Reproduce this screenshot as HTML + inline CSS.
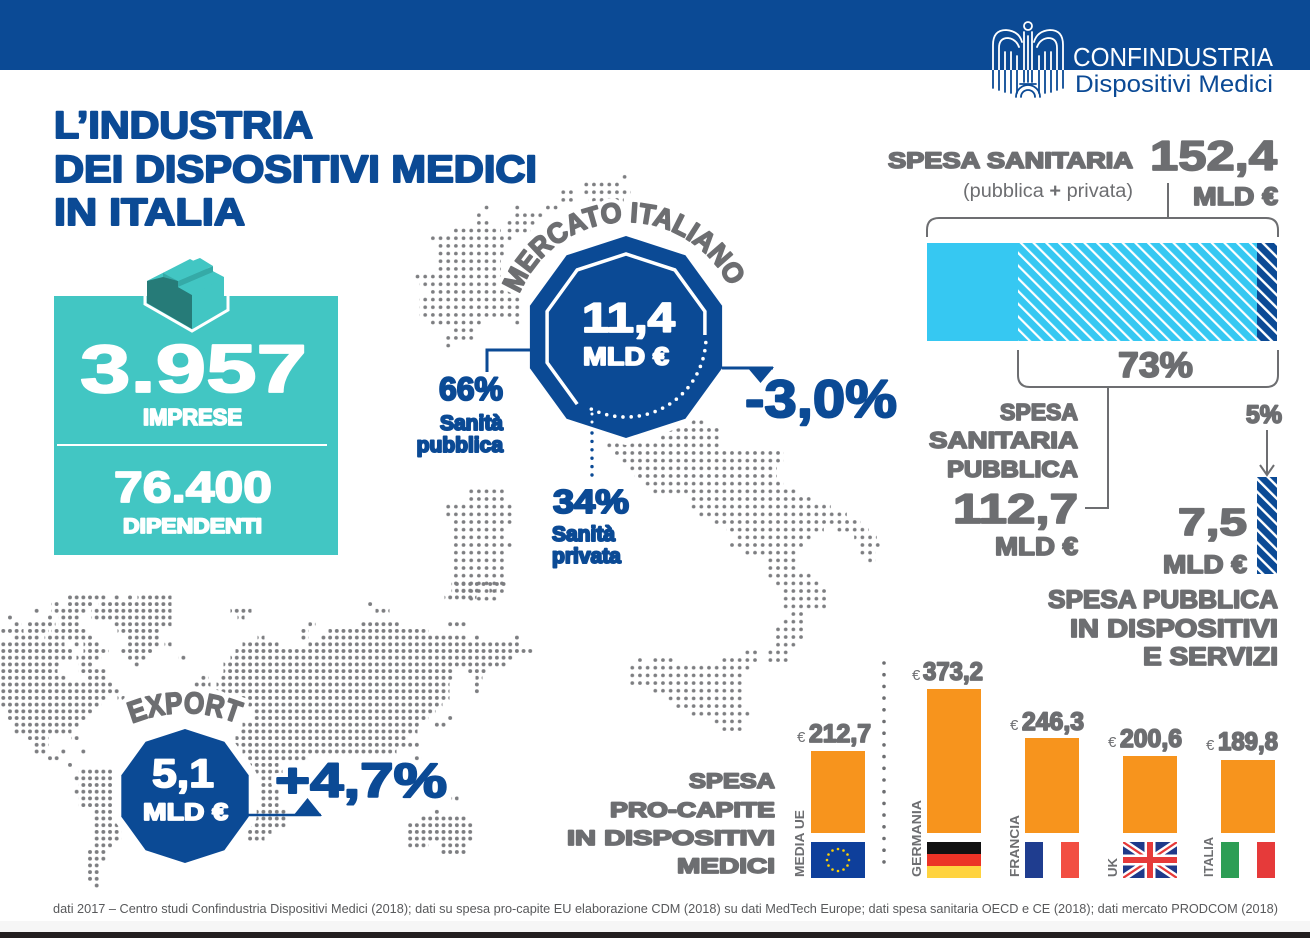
<!DOCTYPE html>
<html><head><meta charset="utf-8">
<style>
html,body{margin:0;padding:0;background:#fff;}
svg{display:block;}
.b{font-family:"Liberation Sans",Arial,sans-serif;font-weight:bold;}
.r{font-family:"Liberation Sans",Arial,sans-serif;font-weight:normal;}
.bl{fill:#0b4a95;stroke:#0b4a95;stroke-width:2;stroke-linejoin:round;}
.gr{fill:#6d6e71;stroke:#6d6e71;stroke-width:1.7;stroke-linejoin:round;}
.wh{fill:#fff;stroke:#fff;stroke-width:1.8;stroke-linejoin:round;}
</style></head>
<body>
<svg width="1310" height="938" viewBox="0 0 1310 938" xmlns="http://www.w3.org/2000/svg">
<defs>
  <pattern id="di" patternUnits="userSpaceOnUse" x="-0.485" y="-3.405" width="7.67" height="7.67">
    <circle cx="3.835" cy="3.835" r="1.85" fill="#7d7e81"/>
  </pattern>
  <pattern id="dw" patternUnits="userSpaceOnUse" x="-0.035" y="580.65" width="6.67" height="6.7">
    <circle cx="3.335" cy="3.35" r="1.95" fill="#7d7e81"/>
  </pattern>
  <pattern id="hl" patternUnits="userSpaceOnUse" width="9" height="9" patternTransform="rotate(-45)">
    <rect width="9" height="9" fill="#36c8f2"/><rect width="2.2" height="9" fill="#fff"/>
  </pattern>
  <pattern id="hd" patternUnits="userSpaceOnUse" width="9" height="9" patternTransform="rotate(-45)">
    <rect width="9" height="9" fill="#0b4a95"/><rect width="2.4" height="9" fill="#fff"/>
  </pattern>
  <path id="arcM" d="M514.9 307.2 A115 115 0 0 1 737.1 307.2"/>
  <path id="arcE" d="M115 731.8 A140 140 0 0 1 255 731.8"/>
  <clipPath id="cTop"><rect x="0" y="0" width="1310" height="70"/></clipPath>
  <clipPath id="cBot"><rect x="0" y="70" width="1310" height="60"/></clipPath>
  <clipPath id="cUK"><rect x="1123" y="842" width="54" height="36"/></clipPath>
  <g id="logo" fill="none" stroke-width="1.8" stroke-linecap="round">
    <path d="M993 88 L993 45 Q993 30 1006 30 Q1019 31 1022 42 M999 90 L999 48 Q999 38 1008 38 Q1016 39 1019 47 M1005 92 L1005 52 M1011 93 L1011 52 M1017 93 L1017 56"/>
    <path d="M1063 88 L1063 45 Q1063 30 1050 30 Q1037 31 1034 42 M1057 90 L1057 48 Q1057 38 1048 38 Q1040 39 1037 47 M1051 92 L1051 52 M1045 93 L1045 52 M1039 93 L1039 56"/>
    <path d="M1024 32 L1024 82 M1032 32 L1032 82 M1028 36 L1028 82 M1020 84 L1036 84 M1016 97 A12 12 0 0 1 1040 97 M1021 97 A7 7 0 0 1 1035 97"/>
    <circle cx="1028" cy="26" r="4"/>
  </g>
</defs>

<rect width="1310" height="938" fill="#fff"/>

<!-- HEADER -->
<rect x="0" y="0" width="1310" height="70" fill="#0b4a95"/>
<use href="#logo" stroke="#fff" clip-path="url(#cTop)"/>
<use href="#logo" stroke="#0b4a95" clip-path="url(#cBot)"/>
<text class="r" x="1073" y="66" font-size="26" fill="#fff" textLength="200" lengthAdjust="spacingAndGlyphs">CONFINDUSTRIA</text>
<text class="r" x="1075" y="92" font-size="24" fill="#0b4a95" textLength="198" lengthAdjust="spacingAndGlyphs">Dispositivi Medici</text>

<!-- TITLE -->
<g class="b bl" font-size="38">
<text x="54" y="138" textLength="259" lengthAdjust="spacingAndGlyphs">L’INDUSTRIA</text>
<text x="54" y="182" textLength="483" lengthAdjust="spacingAndGlyphs">DEI DISPOSITIVI MEDICI</text>
<text x="54" y="225" textLength="191" lengthAdjust="spacingAndGlyphs">IN ITALIA</text>
</g>

<!-- ITALY DOTS -->
<g fill="url(#di)">
<rect x="621.2" y="173.0" width="7.6" height="7.67"/>
<rect x="581.2" y="180.7" width="40.6" height="7.67"/>
<rect x="559.2" y="188.4" width="16.6" height="7.67"/><rect x="581.2" y="188.4" width="49.6" height="7.67"/>
<rect x="559.2" y="196.0" width="16.6" height="7.67"/><rect x="588.2" y="196.0" width="35.6" height="7.67"/>
<rect x="483.2" y="203.7" width="7.6" height="7.67"/><rect x="514.2" y="203.7" width="7.6" height="7.67"/><rect x="543.2" y="203.7" width="17.6" height="7.67"/>
<rect x="474.2" y="211.4" width="7.6" height="7.67"/><rect x="514.2" y="211.4" width="29.6" height="7.67"/>
<rect x="474.2" y="219.0" width="17.6" height="7.67"/><rect x="506.2" y="219.0" width="30.6" height="7.67"/>
<rect x="451.2" y="226.7" width="49.6" height="7.67"/><rect x="506.2" y="226.7" width="24.6" height="7.67"/>
<rect x="428.2" y="234.4" width="85.6" height="7.67"/>
<rect x="436.2" y="242.0" width="70.6" height="7.67"/>
<rect x="436.2" y="249.7" width="70.6" height="7.67"/>
<rect x="436.2" y="257.4" width="64.6" height="7.67"/>
<rect x="436.2" y="265.1" width="64.6" height="7.67"/>
<rect x="413.2" y="272.7" width="87.6" height="7.67"/>
<rect x="419.2" y="280.4" width="87.6" height="7.67"/>
<rect x="428.2" y="288.1" width="85.6" height="7.67"/>
<rect x="419.2" y="295.7" width="101.6" height="7.67"/>
<rect x="419.2" y="303.4" width="101.6" height="7.67"/>
<rect x="419.2" y="311.1" width="101.6" height="7.67"/>
<rect x="428.2" y="318.7" width="55.6" height="7.67"/><rect x="513.2" y="318.7" width="7.6" height="7.67"/>
<rect x="451.2" y="326.4" width="24.6" height="7.67"/>
<rect x="443.2" y="334.1" width="32.6" height="7.67"/>
<rect x="444.2" y="341.8" width="7.6" height="7.67"/>

<rect x="683.2" y="418.5" width="23.6" height="7.67"/>
<rect x="666.2" y="426.1" width="55.6" height="7.67"/>
<rect x="659.2" y="433.8" width="62.6" height="7.67"/>
<rect x="604.2" y="441.5" width="117.6" height="7.67"/>
<rect x="613.2" y="449.1" width="170.6" height="7.67"/>
<rect x="619.2" y="456.8" width="164.6" height="7.67"/>
<rect x="628.2" y="464.5" width="148.6" height="7.67"/>
<rect x="634.2" y="472.1" width="142.6" height="7.67"/>
<rect x="643.2" y="479.8" width="140.6" height="7.67"/>
<rect x="651.2" y="487.5" width="147.6" height="7.67"/><rect x="466.2" y="487.5" width="40.6" height="7.67"/>
<rect x="689.2" y="495.2" width="124.6" height="7.67"/><rect x="466.2" y="495.2" width="40.6" height="7.67"/>
<rect x="689.2" y="502.8" width="141.6" height="7.67"/><rect x="443.2" y="502.8" width="70.6" height="7.67"/>
<rect x="696.2" y="510.5" width="150.6" height="7.67"/><rect x="443.2" y="510.5" width="70.6" height="7.67"/>
<rect x="711.2" y="518.2" width="149.6" height="7.67"/><rect x="451.2" y="518.2" width="62.6" height="7.67"/>
<rect x="726.2" y="525.8" width="97.6" height="7.67"/><rect x="836.2" y="525.8" width="32.6" height="7.67"/><rect x="451.2" y="525.8" width="55.6" height="7.67"/>
<rect x="734.2" y="533.5" width="79.6" height="7.67"/><rect x="854.2" y="533.5" width="22.6" height="7.67"/><rect x="451.2" y="533.5" width="55.6" height="7.67"/>
<rect x="728.2" y="541.2" width="77.6" height="7.67"/><rect x="859.2" y="541.2" width="22.6" height="7.67"/><rect x="451.2" y="541.2" width="62.6" height="7.67"/>
<rect x="743.2" y="548.8" width="55.6" height="7.67"/><rect x="859.2" y="548.8" width="16.6" height="7.67"/><rect x="451.2" y="548.8" width="55.6" height="7.67"/>
<rect x="766.2" y="556.5" width="32.6" height="7.67"/><rect x="868.2" y="556.5" width="7.6" height="7.67"/><rect x="451.2" y="556.5" width="55.6" height="7.67"/>
<rect x="766.2" y="564.2" width="32.6" height="7.67"/><rect x="451.2" y="564.2" width="55.6" height="7.67"/>
<rect x="766.2" y="571.9" width="47.6" height="7.67"/><rect x="451.2" y="571.9" width="55.6" height="7.67"/>
<rect x="774.2" y="579.5" width="47.6" height="7.67"/><rect x="451.2" y="579.5" width="55.6" height="7.67"/>
<rect x="781.2" y="587.2" width="47.6" height="7.67"/><rect x="458.2" y="587.2" width="48.6" height="7.67"/>
<rect x="781.2" y="594.9" width="47.6" height="7.67"/><rect x="466.2" y="594.9" width="32.6" height="7.67"/>
<rect x="781.2" y="602.5" width="47.6" height="7.67"/>
<rect x="789.2" y="610.2" width="16.6" height="7.67"/>
<rect x="781.2" y="617.9" width="24.6" height="7.67"/>
<rect x="774.2" y="625.5" width="31.6" height="7.67"/>
<rect x="774.2" y="633.2" width="31.6" height="7.67"/>
<rect x="774.2" y="640.9" width="24.6" height="7.67"/>
<rect x="743.2" y="648.6" width="15.6" height="7.67"/><rect x="766.2" y="648.6" width="24.6" height="7.67"/>
<rect x="636.2" y="656.2" width="7.6" height="7.67"/><rect x="651.2" y="656.2" width="24.6" height="7.67"/><rect x="719.2" y="656.2" width="39.6" height="7.67"/><rect x="766.2" y="656.2" width="24.6" height="7.67"/>
<rect x="628.2" y="663.9" width="123.6" height="7.67"/>
<rect x="628.2" y="671.6" width="115.6" height="7.67"/>
<rect x="628.2" y="679.2" width="115.6" height="7.67"/>
<rect x="651.2" y="686.9" width="92.6" height="7.67"/>
<rect x="666.2" y="694.6" width="77.6" height="7.67"/>
<rect x="674.2" y="702.2" width="69.6" height="7.67"/>
<rect x="689.2" y="709.9" width="62.6" height="7.67"/>
<rect x="713.2" y="717.6" width="30.6" height="7.67"/>
<rect x="719.2" y="725.3" width="24.6" height="7.67"/>
</g>

<!-- WORLD DOTS -->
<g fill="url(#dw)">
<rect x="451.5" y="580.65" width="56" height="6.7"/>
<rect x="451.5" y="587.35" width="27" height="6.7"/><rect x="489.5" y="587.35" width="7" height="6.7"/>
<rect x="66.5" y="594.05" width="41" height="6.7"/><rect x="112.5" y="594.05" width="7" height="6.7"/><rect x="125.5" y="594.05" width="7" height="6.7"/><rect x="137.5" y="594.05" width="34" height="6.7"/><rect x="444.5" y="594.05" width="32" height="6.7"/>
<rect x="51.5" y="600.75" width="7" height="6.7"/><rect x="66.5" y="600.75" width="26" height="6.7"/><rect x="98.5" y="600.75" width="73" height="6.7"/><rect x="367.5" y="600.75" width="7" height="6.7"/>
<rect x="33.5" y="607.45" width="7" height="6.7"/><rect x="51.5" y="607.45" width="34" height="6.7"/><rect x="91.5" y="607.45" width="80" height="6.7"/><rect x="230.5" y="607.45" width="21" height="6.7"/><rect x="375.5" y="607.45" width="14" height="6.7"/>
<rect x="7.5" y="614.15" width="7" height="6.7"/><rect x="46.5" y="614.15" width="7" height="6.7"/><rect x="58.5" y="614.15" width="22" height="6.7"/><rect x="91.5" y="614.15" width="80" height="6.7"/><rect x="237.5" y="614.15" width="7" height="6.7"/>
<rect x="14.5" y="620.85" width="7" height="6.7"/><rect x="26.5" y="620.85" width="29" height="6.7"/><rect x="58.5" y="620.85" width="22" height="6.7"/><rect x="112.5" y="620.85" width="59" height="6.7"/><rect x="308.5" y="620.85" width="7" height="6.7"/><rect x="360.5" y="620.85" width="41" height="6.7"/><rect x="446.5" y="620.85" width="21" height="6.7"/>
<rect x="0.5" y="627.55" width="23" height="6.7"/><rect x="26.5" y="627.55" width="22" height="6.7"/><rect x="51.5" y="627.55" width="34" height="6.7"/><rect x="117.5" y="627.55" width="43" height="6.7"/><rect x="301.5" y="627.55" width="7" height="6.7"/><rect x="328.5" y="627.55" width="100" height="6.7"/>
<rect x="12.5" y="634.25" width="28" height="6.7"/><rect x="44.5" y="634.25" width="20" height="6.7"/><rect x="66.5" y="634.25" width="28" height="6.7"/><rect x="125.5" y="634.25" width="35" height="6.7"/><rect x="257.5" y="634.25" width="7" height="6.7"/><rect x="301.5" y="634.25" width="7" height="6.7"/><rect x="321.5" y="634.25" width="146" height="6.7"/><rect x="473.5" y="634.25" width="7" height="6.7"/><rect x="512.5" y="634.25" width="7" height="6.7"/>
<rect x="0.5" y="640.95" width="32" height="6.7"/><rect x="33.5" y="640.95" width="31" height="6.7"/><rect x="73.5" y="640.95" width="7" height="6.7"/><rect x="83.5" y="640.95" width="16" height="6.7"/><rect x="125.5" y="640.95" width="35" height="6.7"/><rect x="164.5" y="640.95" width="7" height="6.7"/><rect x="242.5" y="640.95" width="36" height="6.7"/><rect x="308.5" y="640.95" width="211" height="6.7"/>
<rect x="0.5" y="647.65" width="74" height="6.7"/><rect x="83.5" y="647.65" width="25" height="6.7"/><rect x="119.5" y="647.65" width="34" height="6.7"/><rect x="235.5" y="647.65" width="50" height="6.7"/><rect x="287.5" y="647.65" width="246" height="6.7"/>
<rect x="0.5" y="654.35" width="74" height="6.7"/><rect x="76.5" y="654.35" width="25" height="6.7"/><rect x="125.5" y="654.35" width="21" height="6.7"/><rect x="178.5" y="654.35" width="7" height="6.7"/><rect x="230.5" y="654.35" width="284" height="6.7"/>
<rect x="0.5" y="661.05" width="60" height="6.7"/><rect x="78.5" y="661.05" width="16" height="6.7"/><rect x="132.5" y="661.05" width="7" height="6.7"/><rect x="223.5" y="661.05" width="284" height="6.7"/>
<rect x="0.5" y="667.75" width="57" height="6.7"/><rect x="78.5" y="667.75" width="29" height="6.7"/><rect x="223.5" y="667.75" width="230" height="6.7"/><rect x="466.5" y="667.75" width="21" height="6.7"/>
<rect x="0.5" y="674.45" width="67" height="6.7"/><rect x="85.5" y="674.45" width="22" height="6.7"/><rect x="201.5" y="674.45" width="7" height="6.7"/><rect x="221.5" y="674.45" width="232" height="6.7"/><rect x="475.5" y="674.45" width="7" height="6.7"/>
<rect x="0.5" y="681.15" width="114" height="6.7"/><rect x="194.5" y="681.15" width="16" height="6.7"/><rect x="216.5" y="681.15" width="233" height="6.7"/><rect x="473.5" y="681.15" width="7" height="6.7"/>
<rect x="0.5" y="687.85" width="114" height="6.7"/><rect x="112.5" y="687.85" width="7" height="6.7"/><rect x="216.5" y="687.85" width="233" height="6.7"/><rect x="473.5" y="687.85" width="7" height="6.7"/>
<rect x="0.5" y="694.55" width="107" height="6.7"/><rect x="117.5" y="694.55" width="7" height="6.7"/><rect x="221.5" y="694.55" width="228" height="6.7"/>
<rect x="0.5" y="701.25" width="101" height="6.7"/><rect x="246.5" y="701.25" width="196" height="6.7"/>
<rect x="5.5" y="707.95" width="89" height="6.7"/><rect x="253.5" y="707.95" width="182" height="6.7"/>
<rect x="5.5" y="714.65" width="82" height="6.7"/><rect x="253.5" y="714.65" width="175" height="6.7"/><rect x="446.5" y="714.65" width="7" height="6.7"/>
<rect x="12.5" y="721.35" width="66" height="6.7"/><rect x="242.5" y="721.35" width="179" height="6.7"/><rect x="432.5" y="721.35" width="14" height="6.7"/>
<rect x="12.5" y="728.05" width="59" height="6.7"/><rect x="239.5" y="728.05" width="178" height="6.7"/>
<rect x="26.5" y="734.75" width="22" height="6.7"/><rect x="71.5" y="734.75" width="7" height="6.7"/><rect x="235.5" y="734.75" width="172" height="6.7"/>
<rect x="33.5" y="741.45" width="15" height="6.7"/><rect x="235.5" y="741.45" width="186" height="6.7"/>
<rect x="32.5" y="748.15" width="14" height="6.7"/><rect x="58.5" y="748.15" width="7" height="6.7"/><rect x="80.5" y="748.15" width="7" height="6.7"/><rect x="242.5" y="748.15" width="154" height="6.7"/>
<rect x="46.5" y="754.85" width="14" height="6.7"/><rect x="242.5" y="754.85" width="65" height="6.7"/><rect x="414.5" y="754.85" width="7" height="6.7"/>
<rect x="66.5" y="761.55" width="7" height="6.7"/><rect x="250.5" y="761.55" width="28" height="6.7"/>
<rect x="78.5" y="768.25" width="36" height="6.7"/><rect x="253.5" y="768.25" width="29" height="6.7"/>
<rect x="73.5" y="774.95" width="41" height="6.7"/><rect x="260.5" y="774.95" width="18" height="6.7"/>
<rect x="78.5" y="781.65" width="36" height="6.7"/><rect x="260.5" y="781.65" width="18" height="6.7"/>
<rect x="73.5" y="788.35" width="41" height="6.7"/><rect x="260.5" y="788.35" width="18" height="6.7"/><rect x="400.5" y="788.35" width="14" height="6.7"/>
<rect x="78.5" y="795.05" width="36" height="6.7"/><rect x="260.5" y="795.05" width="18" height="6.7"/><rect x="434.5" y="795.05" width="7" height="6.7"/><rect x="451.5" y="795.05" width="7" height="6.7"/>
<rect x="78.5" y="801.75" width="36" height="6.7"/><rect x="260.5" y="801.75" width="18" height="6.7"/>
<rect x="92.5" y="808.45" width="22" height="6.7"/><rect x="253.5" y="808.45" width="32" height="6.7"/><rect x="434.5" y="808.45" width="7" height="6.7"/>
<rect x="92.5" y="815.15" width="22" height="6.7"/><rect x="246.5" y="815.15" width="39" height="6.7"/><rect x="421.5" y="815.15" width="46" height="6.7"/>
<rect x="92.5" y="821.85" width="29" height="6.7"/><rect x="242.5" y="821.85" width="43" height="6.7"/><rect x="407.5" y="821.85" width="67" height="6.7"/>
<rect x="92.5" y="828.55" width="29" height="6.7"/><rect x="242.5" y="828.55" width="29" height="6.7"/><rect x="407.5" y="828.55" width="67" height="6.7"/>
<rect x="92.5" y="835.25" width="29" height="6.7"/><rect x="246.5" y="835.25" width="18" height="6.7"/><rect x="407.5" y="835.25" width="67" height="6.7"/>
<rect x="92.5" y="841.95" width="22" height="6.7"/><rect x="407.5" y="841.95" width="21" height="6.7"/><rect x="439.5" y="841.95" width="28" height="6.7"/>
<rect x="85.5" y="848.65" width="22" height="6.7"/><rect x="439.5" y="848.65" width="28" height="6.7"/>
<rect x="85.5" y="855.35" width="22" height="6.7"/>
<rect x="85.5" y="862.05" width="14" height="6.7"/>
<rect x="85.5" y="868.75" width="14" height="6.7"/>
<rect x="85.5" y="875.45" width="14" height="6.7"/>
<rect x="92.5" y="882.15" width="7" height="6.7"/>
</g>

<!-- TEAL BOX -->
<rect x="54" y="296" width="284" height="259" fill="#42c6c3"/>
<g>
  <polygon points="147,281 190,259 224,277 224,311 192,329 147,303" fill="#42c6c3"/>
  <polygon points="147,281 147,303 192,329 192,295 178,287 178,281 163,273 163,277" fill="#267b78"/>
  <polygon points="147,281 163,273 200,258 186,266" fill="#42c6c3"/>
  <polygon points="163,273 163,277 178,281 200,268 200,262" fill="#35aaa7"/>
  <polygon points="178,281 213,266 213,272 178,287" fill="#35aaa7"/>
  <polygon points="178,287 192,295 224,278 213,272" fill="#42c6c3"/>
  <polygon points="200,258 213,266 178,281 163,273" fill="#42c6c3"/>
  <polyline points="145,296 145,304 192,331 228,310 228,296" fill="none" stroke="#fff" stroke-width="3"/>
</g>
<g class="b wh">
<text x="80" y="392" font-size="68" textLength="227" lengthAdjust="spacingAndGlyphs">3.957</text>
<text x="143" y="425" font-size="23" textLength="99" lengthAdjust="spacingAndGlyphs">IMPRESE</text>
<text x="114" y="502" font-size="44" textLength="158" lengthAdjust="spacingAndGlyphs">76.400</text>
<text x="123" y="533" font-size="21" textLength="139" lengthAdjust="spacingAndGlyphs">DIPENDENTI</text>
</g>
<line x1="57" y1="445" x2="327" y2="445" stroke="#fff" stroke-width="2"/>

<!-- MERCATO ITALIANO OCTAGON -->
<polygon points="626,236 685.4,255.3 722.1,305.8 722.1,368.2 685.4,418.7 626,438 566.6,418.7 529.9,368.2 529.9,305.8 566.6,255.3" fill="#0b4a95" stroke="#fff" stroke-width="14" stroke-linejoin="round" paint-order="stroke"/>
<polyline points="577.2,404.1 547.1,362.6 547.1,311.4 577.2,269.9 626,254 674.8,269.9 704.9,311.4 704.9,335" fill="none" stroke="#fff" stroke-width="3.5"/>
<path d="M705.8 342.6 A80 80 0 0 1 584.8 405.6" fill="none" stroke="#fff" stroke-width="3.6" stroke-linecap="round" stroke-dasharray="0 8.2"/>
<text class="b" font-size="28" fill="#fff" stroke="#fff" stroke-width="10" stroke-linejoin="round"><textPath href="#arcM" startOffset="14" textLength="265" lengthAdjust="spacingAndGlyphs">MERCATO ITALIANO</textPath></text>
<text class="b gr" font-size="28"><textPath href="#arcM" startOffset="14" textLength="265" lengthAdjust="spacingAndGlyphs">MERCATO ITALIANO</textPath></text>
<g class="b wh">
<text x="582" y="332" font-size="42" textLength="93" lengthAdjust="spacingAndGlyphs">11,4</text>
<text x="583" y="365" font-size="25" textLength="86" lengthAdjust="spacingAndGlyphs">MLD €</text>
</g>
<polyline points="487,372 487,350 532,350" fill="none" stroke="#0b4a95" stroke-width="3"/>
<line x1="722" y1="368" x2="773" y2="368" stroke="#0b4a95" stroke-width="3"/>
<polygon points="747,367 774,367 760.5,383" fill="#0b4a95"/>
<line x1="592" y1="433" x2="592" y2="477" stroke="#0b4a95" stroke-width="3.4" stroke-linecap="round" stroke-dasharray="0 8.4"/>
<line x1="592" y1="414" x2="592" y2="428" stroke="#fff" stroke-width="3" stroke-linecap="round" stroke-dasharray="0 8"/>
<g class="b bl">
<text x="745" y="417" font-size="53" textLength="152" lengthAdjust="spacingAndGlyphs">-3,0%</text>
<text x="503" y="400" font-size="32" text-anchor="end">66%</text>
<text x="503" y="430" font-size="21" text-anchor="end">Sanità</text>
<text x="503" y="452" font-size="21" text-anchor="end">pubblica</text>
<text x="553" y="513" font-size="33" textLength="76" lengthAdjust="spacingAndGlyphs">34%</text>
<text x="552" y="541" font-size="21">Sanità</text>
<text x="552" y="563" font-size="21">privata</text>
</g>

<!-- EXPORT -->
<polygon points="185,729 224.4,741.8 248.7,775.3 248.7,816.7 224.4,850.2 185,863 145.6,850.2 121.3,816.7 121.3,775.3 145.6,741.8" fill="#0b4a95" stroke="#fff" stroke-width="16" stroke-linejoin="round" paint-order="stroke"/>
<text class="b" font-size="30" fill="#fff" stroke="#fff" stroke-width="11" stroke-linejoin="round"><textPath href="#arcE" startOffset="19" textLength="108" lengthAdjust="spacingAndGlyphs">EXPORT</textPath></text>
<text class="b gr" font-size="30"><textPath href="#arcE" startOffset="19" textLength="108" lengthAdjust="spacingAndGlyphs">EXPORT</textPath></text>
<g class="b wh">
<text x="152" y="787" font-size="40" textLength="62" lengthAdjust="spacingAndGlyphs">5,1</text>
<text x="143" y="820" font-size="24" textLength="85" lengthAdjust="spacingAndGlyphs">MLD €</text>
</g>
<line x1="248" y1="815" x2="321" y2="815" stroke="#0b4a95" stroke-width="2.5"/>
<polygon points="293,816 322,816 307.5,798" fill="#0b4a95"/>
<text class="b" x="275" y="797" font-size="48" textLength="172" lengthAdjust="spacingAndGlyphs" fill="#fff" stroke="#fff" stroke-width="10" stroke-linejoin="round">+4,7%</text>
<text class="b bl" x="275" y="797" font-size="48" textLength="172" lengthAdjust="spacingAndGlyphs">+4,7%</text>

<!-- SPESA SANITARIA -->
<g class="b gr">
<text x="888" y="168" font-size="22" textLength="245" lengthAdjust="spacingAndGlyphs">SPESA SANITARIA</text>
<text x="1150" y="170" font-size="42" textLength="127" lengthAdjust="spacingAndGlyphs">152,4</text>
<text x="1193" y="205" font-size="25" textLength="85" lengthAdjust="spacingAndGlyphs">MLD €</text>
<text x="1118" y="377" font-size="35" textLength="75" lengthAdjust="spacingAndGlyphs">73%</text>
</g>
<text class="r" x="963" y="197" font-size="19" fill="#6d6e71" textLength="170" lengthAdjust="spacingAndGlyphs">(pubblica <tspan class="b" fill="#6d6e71">+</tspan> privata)</text>
<g fill="none" stroke="#6d6e71" stroke-width="2">
<line x1="1168" y1="183" x2="1168" y2="218"/>
<path d="M927 237 L927 230 Q927 218 939 218 L1266 218 Q1278 218 1278 230 L1278 237"/>
<path d="M1018 350 L1018 375 Q1018 387 1030 387 L1266 387 Q1278 387 1278 375 L1278 350"/>
<path d="M1108 387 L1108 508 L1085 508"/>
<line x1="1267" y1="430" x2="1267" y2="475"/>
<path d="M1260 465 L1267 475 L1274 465"/>
</g>
<rect x="927" y="243" width="91" height="98" fill="#36c8f2"/>
<rect x="1018" y="243" width="239" height="98" fill="url(#hl)"/>
<rect x="1257" y="243" width="20" height="98" fill="url(#hd)"/>
<rect x="1257" y="477" width="20" height="97" fill="url(#hd)"/>

<g class="b gr" text-anchor="end">
<text x="1078" y="420" font-size="23">SPESA</text>
<text x="1078" y="448" font-size="23" textLength="149" lengthAdjust="spacingAndGlyphs">SANITARIA</text>
<text x="1078" y="477" font-size="23" textLength="131" lengthAdjust="spacingAndGlyphs">PUBBLICA</text>
<text x="1282" y="423" font-size="25">5%</text>
</g>
<g class="b gr">
<text x="953" y="523" font-size="42" textLength="125" lengthAdjust="spacingAndGlyphs">112,7</text>
<text x="995" y="555" font-size="25" textLength="83" lengthAdjust="spacingAndGlyphs">MLD €</text>
<text x="1178" y="535" font-size="38" textLength="69" lengthAdjust="spacingAndGlyphs">7,5</text>
<text x="1163" y="573" font-size="25" textLength="84" lengthAdjust="spacingAndGlyphs">MLD €</text>
<text x="1048" y="608" font-size="25" textLength="230" lengthAdjust="spacingAndGlyphs">SPESA PUBBLICA</text>
<text x="1070" y="637" font-size="25" textLength="208" lengthAdjust="spacingAndGlyphs">IN DISPOSITIVI</text>
<text x="1143" y="665" font-size="25" textLength="135" lengthAdjust="spacingAndGlyphs">E SERVIZI</text>
</g>

<!-- PRO-CAPITE -->
<g class="b gr">
<text x="689" y="788" font-size="21" textLength="86" lengthAdjust="spacingAndGlyphs">SPESA</text>
<text x="610" y="817" font-size="21" textLength="165" lengthAdjust="spacingAndGlyphs">PRO-CAPITE</text>
<text x="567" y="845" font-size="21" textLength="208" lengthAdjust="spacingAndGlyphs">IN DISPOSITIVI</text>
<text x="677" y="873" font-size="21" textLength="98" lengthAdjust="spacingAndGlyphs">MEDICI</text>
</g>
<line x1="884" y1="663" x2="884" y2="870" stroke="#6d6e71" stroke-width="3.6" stroke-linecap="round" stroke-dasharray="0 11.7"/>
<g fill="#f7941d">
<rect x="811" y="751" width="54" height="82"/>
<rect x="927" y="689" width="54" height="144"/>
<rect x="1025" y="738" width="54" height="95"/>
<rect x="1123" y="756" width="54" height="77"/>
<rect x="1221" y="760" width="54" height="73"/>
</g>
<g class="b" fill="#6d6e71">
<text x="797" y="742" font-size="15" font-weight="normal">€</text>
<text x="809" y="742" font-size="25" class="b gr" textLength="62" lengthAdjust="spacingAndGlyphs">212,7</text>
<text x="912" y="680" font-size="15" font-weight="normal">€</text>
<text x="923" y="680" font-size="25" class="b gr" textLength="60" lengthAdjust="spacingAndGlyphs">373,2</text>
<text x="1010" y="730" font-size="15" font-weight="normal">€</text>
<text x="1022" y="730" font-size="25" class="b gr" textLength="62" lengthAdjust="spacingAndGlyphs">246,3</text>
<text x="1108" y="747" font-size="15" font-weight="normal">€</text>
<text x="1120" y="747" font-size="25" class="b gr" textLength="62" lengthAdjust="spacingAndGlyphs">200,6</text>
<text x="1206" y="750" font-size="15" font-weight="normal">€</text>
<text x="1218" y="750" font-size="25" class="b gr" textLength="60" lengthAdjust="spacingAndGlyphs">189,8</text>
</g>
<g class="b" fill="#6d6e71" font-size="13">
<text transform="translate(804,877) rotate(-90)" textLength="67" lengthAdjust="spacingAndGlyphs">MEDIA UE</text>
<text transform="translate(921,877) rotate(-90)" textLength="77" lengthAdjust="spacingAndGlyphs">GERMANIA</text>
<text transform="translate(1019,877) rotate(-90)" textLength="62" lengthAdjust="spacingAndGlyphs">FRANCIA</text>
<text transform="translate(1117,877) rotate(-90)" textLength="19" lengthAdjust="spacingAndGlyphs">UK</text>
<text transform="translate(1213,877) rotate(-90)" textLength="40" lengthAdjust="spacingAndGlyphs">ITALIA</text>
</g>
<!-- flags -->
<rect x="811" y="842" width="54" height="36" fill="#0e3f9b"/>
<g fill="#ffd200">
<circle cx="838" cy="849" r="1.3"/><circle cx="843.5" cy="850.5" r="1.3"/><circle cx="847.5" cy="854.5" r="1.3"/><circle cx="849" cy="860" r="1.3"/><circle cx="847.5" cy="865.5" r="1.3"/><circle cx="843.5" cy="869.5" r="1.3"/><circle cx="838" cy="871" r="1.3"/><circle cx="832.5" cy="869.5" r="1.3"/><circle cx="828.5" cy="865.5" r="1.3"/><circle cx="827" cy="860" r="1.3"/><circle cx="828.5" cy="854.5" r="1.3"/><circle cx="832.5" cy="850.5" r="1.3"/>
</g>
<rect x="927" y="842" width="54" height="12" fill="#111"/>
<rect x="927" y="854" width="54" height="12" fill="#ec3326"/>
<rect x="927" y="866" width="54" height="12" fill="#ffd33f"/>
<rect x="1025" y="842" width="18" height="36" fill="#1f3d8f"/>
<rect x="1043" y="842" width="18" height="36" fill="#fff"/>
<rect x="1061" y="842" width="18" height="36" fill="#f24e42"/>
<g clip-path="url(#cUK)">
<rect x="1123" y="842" width="54" height="36" fill="#1f3a8a"/>
<path d="M1123 842 L1177 878 M1177 842 L1123 878" stroke="#fff" stroke-width="7"/>
<path d="M1123 842 L1177 878 M1177 842 L1123 878" stroke="#e63a3a" stroke-width="2.2"/>
<path d="M1150 842 L1150 878 M1123 860 L1177 860" stroke="#fff" stroke-width="11"/>
<path d="M1150 842 L1150 878 M1123 860 L1177 860" stroke="#e63a3a" stroke-width="6"/>
</g>
<rect x="1221" y="842" width="18" height="36" fill="#2d9e55"/>
<rect x="1239" y="842" width="18" height="36" fill="#fff"/>
<rect x="1257" y="842" width="18" height="36" fill="#e63a3a"/>

<!-- FOOTER -->
<text class="r" x="53" y="913" font-size="13" fill="#58595b" textLength="1225" lengthAdjust="spacingAndGlyphs">dati 2017 – Centro studi Confindustria Dispositivi Medici (2018); dati su spesa pro-capite EU elaborazione CDM (2018) su dati MedTech Europe; dati spesa sanitaria OECD e CE (2018); dati mercato PRODCOM (2018)</text>
<rect x="0" y="921" width="1310" height="11" fill="#f6f6f6"/>
<rect x="0" y="932" width="1310" height="6" fill="#231f20"/>
</svg>
</body></html>
